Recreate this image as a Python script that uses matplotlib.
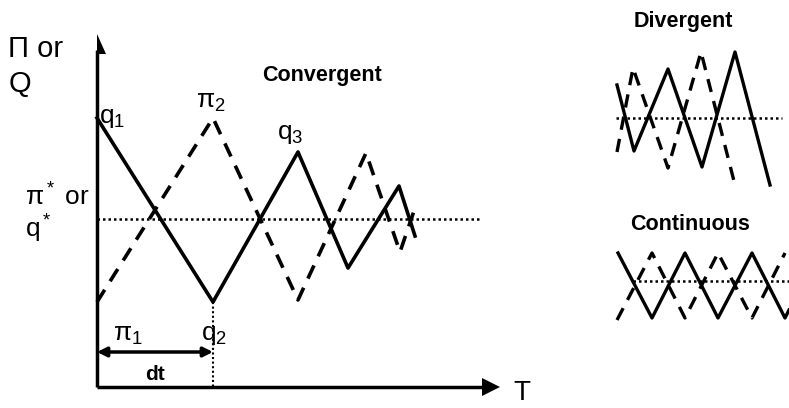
import matplotlib
matplotlib.use("Agg")
import matplotlib.pyplot as plt

plt.rcParams['font.family'] = ['Liberation Sans', 'DejaVu Sans']
plt.rcParams['mathtext.fontset'] = 'custom'
plt.rcParams['mathtext.rm'] = 'Liberation Sans'
plt.rcParams['mathtext.it'] = 'Liberation Sans'

# main (convergent) panel, vertices in picture units
conv_q_t = [97, 213, 298, 348, 399, 415]
conv_q_v = [118, 302, 152, 268, 186, 236]
conv_p_t = [97, 213, 298, 366, 400, 416]
conv_p_v = [302, 118, 300, 153, 252, 205]
eq_level = 219

# divergent inset
div_q_t = [617, 634, 668, 702, 735, 770]
div_q_v = [85, 151, 69, 167, 52, 185]
div_p_t = [617, 633, 668, 701, 735]
div_p_v = [152, 68, 168, 52, 185]
div_eq = 118

# continuous inset
cont_q_t = [618, 652, 685, 718, 752, 785, 789]
cont_q_v = [253, 318, 253, 318, 253, 318, 310]
cont_p_t = [617, 652, 685, 718, 752, 785]
cont_p_v = [320, 253, 318, 253, 318, 253]
cont_eq = 281

fig = plt.figure(figsize=(7.89, 4.08), dpi=100)
ax = fig.add_axes([0, 0, 1, 1])
ax.set_xlim(0, 789)
ax.set_ylim(408, 0)
ax.axis('off')

# axes of the main panel
ax.plot([97, 97], [50, 387], color='black', lw=2.5, solid_capstyle='butt')
ax.plot([97, 484], [387, 387], color='black', lw=2.5, solid_capstyle='butt')
ax.fill([97, 97, 106], [34, 54, 54], color='black', lw=0)
ax.fill([482, 500, 482], [378, 387, 396], color='black', lw=0)

# convergent
ax.plot([97, 482], [eq_level, eq_level], color='black', lw=1.8, ls=(0, (1, 1.2)))
ax.plot([213, 213], [302, 387], color='black', lw=1.5, ls=(0, (1, 1.2)))
ax.plot(conv_q_t, conv_q_v, color='black', lw=2.6)
ax.plot(conv_p_t, conv_p_v, color='black', lw=2.6, ls=(0, (4, 2.8)))
ax.annotate('', xy=(97, 352), xytext=(213, 352),
            arrowprops=dict(arrowstyle='<|-|>', color='black', lw=2.5,
                            shrinkA=0, shrinkB=0, mutation_scale=14))

# divergent
ax.plot([616, 782], [div_eq, div_eq], color='black', lw=1.8, ls=(0, (1, 1.2)))
ax.plot(div_q_t, div_q_v, color='black', lw=2.4)
ax.plot(div_p_t, div_p_v, color='black', lw=2.4, ls=(0, (4, 2.8)))

# continuous
ax.plot([633, 789], [cont_eq, cont_eq], color='black', lw=1.8, ls=(0, (1, 1.2)))
ax.plot(cont_q_t, cont_q_v, color='black', lw=2.4)
ax.plot(cont_p_t, cont_p_v, color='black', lw=2.4, ls=(0, (4, 2.8)))

# text
fs = 19
ax.text(8, 49, '\u03a0 or', fontsize=21, va='center', ha='left')
ax.text(9, 84, 'Q', fontsize=21, va='center', ha='left')
ax.text(25, 197, '$\\mathregular{\u03c0^*}$ or', fontsize=fs, va='center', ha='left')
ax.text(25, 229, '$\\mathregular{q^*}$', fontsize=fs, va='center', ha='left')
ax.text(99, 130, '$\\mathregular{q_1}$', fontsize=fs, va='bottom', ha='left')
ax.text(196, 114, '$\\mathregular{\u03c0_2}$', fontsize=fs, va='bottom', ha='left')
ax.text(277, 146, '$\\mathregular{q_3}$', fontsize=fs, va='bottom', ha='left')
ax.text(113, 347, '$\\mathregular{\u03c0_1}$', fontsize=fs, va='bottom', ha='left')
ax.text(201, 347, '$\\mathregular{q_2}$', fontsize=fs, va='bottom', ha='left')
ax.text(155, 374, 'dt', fontsize=15, fontweight='bold', va='center', ha='center')
ax.text(513, 393, 'T', fontsize=20, va='center', ha='left')
ax.text(262, 76, 'Convergent', fontsize=15.5, fontweight='bold', va='center', ha='left')
ax.text(683, 22, 'Divergent', fontsize=15.5, fontweight='bold', va='center', ha='center')
ax.text(690, 225, 'Continuous', fontsize=15.5, fontweight='bold', va='center', ha='center')

fig.savefig('out.png', dpi=100)
